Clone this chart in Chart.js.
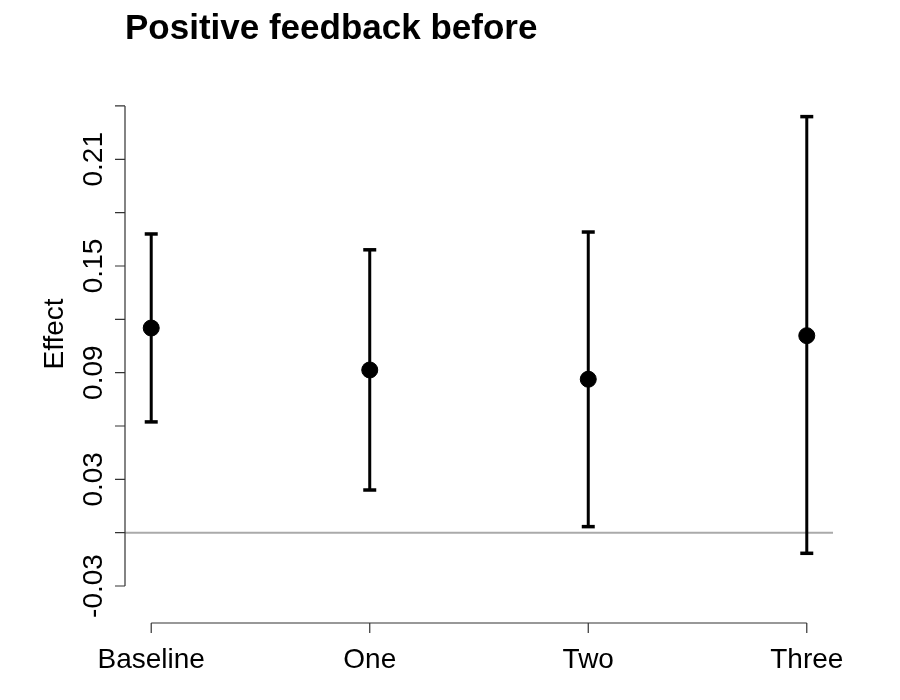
<!DOCTYPE html>
<html>
<head>
<meta charset="utf-8">
<title>Positive feedback before</title>
<script src="https://cdn.jsdelivr.net/npm/chart.js@4"></script>
<style>
  html, body { margin: 0; padding: 0; background: #fff; }
  #wrap { width: 900px; height: 700px; position: relative; }
</style>
</head>
<body>
<div id="wrap"><canvas id="effectChart"></canvas></div>
<script>
const groups = ["Baseline", "One", "Two", "Three"];
const positions = [1, 2, 3, 4];
const estimate = [0.1151, 0.0915, 0.0863, 0.1108];
const lower = [0.0623, 0.0240, 0.0034, -0.0116];
const upper = [0.1680, 0.1591, 0.1691, 0.2340];

const yTicks = [-0.03, 0, 0.03, 0.06, 0.09, 0.12, 0.15, 0.18, 0.21, 0.24];
const yTickLabels = ["-0.03", "", "0.03", "", "0.09", "", "0.15", "", "0.21", ""];
const refLine = 0;

const FONT = '"Liberation Sans", Arial, Helvetica, sans-serif';

// whiskers as line pieces split by gaps
const whiskers = [];
positions.forEach((x, i) => {
  whiskers.push({ x: x, y: lower[i] });
  whiskers.push({ x: x, y: upper[i] });
  whiskers.push({ x: x, y: null });
});
const caps = [];
positions.forEach((x, i) => {
  caps.push({ x: x, y: lower[i] });
  caps.push({ x: x, y: upper[i] });
});

// R style axes, title and y label
const baseAxes = {
  id: "baseAxes",
  afterDraw(chart) {
    const c = chart.ctx;
    const xs = chart.scales.x;
    const ys = chart.scales.y;
    c.save();
    c.strokeStyle = "#333";
    c.lineWidth = 1.2;
    c.fillStyle = "#000";

    // y axis
    const yx = chart.chartArea.left;
    const yTop = ys.getPixelForValue(yTicks[yTicks.length - 1]);
    const yBot = ys.getPixelForValue(yTicks[0]);
    c.beginPath();
    c.moveTo(yx, yTop);
    c.lineTo(yx, yBot);
    yTicks.forEach(v => {
      const p = ys.getPixelForValue(v);
      c.moveTo(yx - 10, p);
      c.lineTo(yx, p);
    });
    c.stroke();
    c.font = "28px " + FONT;
    c.textAlign = "center";
    c.textBaseline = "alphabetic";
    yTicks.forEach((v, i) => {
      if (!yTickLabels[i]) return;
      c.save();
      c.translate(102, ys.getPixelForValue(v));
      c.rotate(-Math.PI / 2);
      c.fillText(yTickLabels[i], 0, 0);
      c.restore();
    });

    // x axis
    const xy = chart.chartArea.bottom;
    c.beginPath();
    c.moveTo(xs.getPixelForValue(positions[0]), xy);
    c.lineTo(xs.getPixelForValue(positions[positions.length - 1]), xy);
    positions.forEach(v => {
      const p = xs.getPixelForValue(v);
      c.moveTo(p, xy);
      c.lineTo(p, xy + 10);
    });
    c.stroke();
    positions.forEach((v, i) => {
      c.fillText(groups[i], xs.getPixelForValue(v), 667.5);
    });

    // y label
    c.save();
    c.translate(62.5, 334);
    c.rotate(-Math.PI / 2);
    c.fillText("Effect", 0, 0);
    c.restore();

    // title
    c.font = "bold 35px " + FONT;
    c.textAlign = "left";
    c.fillText("Positive feedback before", 125, 39);
    c.restore();
  }
};

new Chart(document.getElementById("effectChart"), {
  type: "scatter",
  data: {
    datasets: [
      {
        label: "Estimate",
        data: positions.map((x, i) => ({ x: x, y: estimate[i] })),
        backgroundColor: "#000",
        borderColor: "#000",
        pointRadius: 8,
        pointHoverRadius: 8,
        order: 0
      },
      {
        label: "Caps",
        data: caps,
        pointStyle: "line",
        pointRadius: 6.5,
        pointHoverRadius: 6.5,
        borderColor: "#000",
        borderWidth: 3.5,
        order: 1
      },
      {
        label: "Interval",
        data: whiskers,
        showLine: true,
        spanGaps: false,
        borderColor: "#000",
        borderWidth: 3,
        pointRadius: 0,
        order: 2
      },
      {
        label: "Zero",
        data: [{ x: 0.88, y: refLine }, { x: 4.12, y: refLine }],
        showLine: true,
        borderColor: "#aaaaaa",
        borderWidth: 2,
        pointRadius: 0,
        order: 3
      }
    ]
  },
  options: {
    responsive: true,
    maintainAspectRatio: false,
    animation: false,
    layout: { padding: { left: 125, right: 67, top: 80, bottom: 77 } },
    plugins: {
      legend: { display: false },
      tooltip: { enabled: false },
      title: { display: false }
    },
    scales: {
      x: { type: "linear", min: 0.88, max: 4.12, display: false },
      y: { type: "linear", min: -0.0508, max: 0.2546, display: false }
    }
  },
  plugins: [baseAxes]
});
</script>
</body>
</html>
